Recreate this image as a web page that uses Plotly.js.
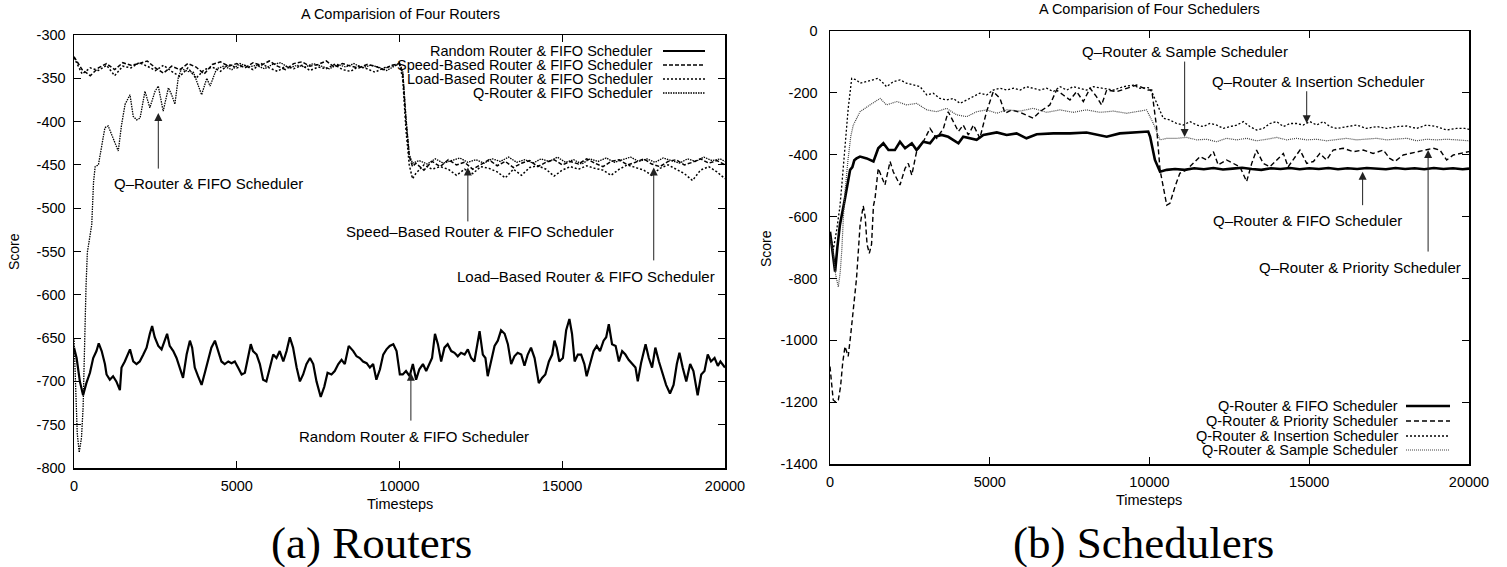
<!DOCTYPE html>
<html>
<head>
<meta charset="utf-8">
<script src="https://cdn.plot.ly/plotly-3.0.1.min.js"></script>
<style>
html,body{margin:0;padding:0;background:#fff;}
#chart{width:1507px;height:567px;}
</style>
</head>
<body>
<div id="chart"></div>
<script>
// ---------------- DATA: (a) Routers ----------------
const randomRouterT = [0,80,180,280,380,490,590,690,760,850,950,1000,1100,1200,1300,1410,1460,1560,1720,1820,1920,2020,2130,2230,2330,2400,2480,2590,2690,2790,2860,2940,3050,3150,3250,3350,3460,3560,3630,3710,3810,3920,4020,4120,4220,4330,4430,4530,4630,4740,4840,4940,5040,5150,5250,5350,5430,5500,5610,5710,5810,5910,6020,6120,6220,6320,6430,6530,6630,6730,6840,6940,7040,7140,7250,7350,7450,7580,7690,7790,7910,8010,8120,8220,8320,8440,8580,8680,8780,8880,8990,9090,9190,9290,9400,9500,9600,9700,9810,9910,10010,
10100,10200,10310,10410,10510,10610,10720,10820,10920,11000,11090,11180,11280,11380,11480,11590,11690,11790,11890,12000,12100,12200,12300,12460,12560,12640,12710,12820,12920,13020,13120,13230,13330,13430,13530,13630,13740,13840,13940,14040,14150,14280,14380,14480,14590,14690,14760,14830,14910,15020,15120,15220,15300,15380,15480,15580,15680,15750,15860,15960,16060,16160,16270,16350,16430,16530,16640,16740,16840,16940,17040,17150,17250,17320,17420,17560,17660,17760,17860,17970,18090,18190,18310,18420,18520,18600,18700,18810,18930,19030,19160,19270,19370,19470,19570,19680,19780,19860,20000];
const randomRouterV = [-661,-673,-700,-716,-702,-690,-673,-665,-656,-665,-680,-692,-698,-694,-700,-710,-684,-677,-663,-677,-680,-677,-669,-661,-645,-636,-649,-659,-663,-653,-645,-659,-665,-673,-684,-696,-669,-653,-661,-684,-694,-704,-690,-677,-661,-653,-665,-677,-680,-677,-679,-677,-684,-692,-690,-669,-657,-665,-669,-680,-698,-700,-684,-669,-673,-665,-677,-665,-649,-661,-684,-700,-692,-680,-673,-680,-700,-718,-706,-690,-692,-688,-680,-675,-680,-659,-665,-671,-673,-677,-679,-684,-680,-698,-686,-669,-663,-659,-657,-665,-692,
-692,-688,-694,-680,-698,-686,-680,-688,-680,-673,-645,-657,-677,-661,-657,-665,-667,-671,-667,-669,-663,-673,-677,-642,-669,-673,-694,-677,-659,-653,-641,-645,-657,-680,-671,-667,-669,-682,-669,-661,-673,-702,-696,-692,-677,-669,-653,-661,-677,-673,-641,-628,-645,-677,-669,-669,-680,-694,-680,-665,-659,-665,-653,-649,-634,-657,-659,-677,-665,-669,-675,-680,-684,-700,-679,-657,-673,-684,-661,-677,-692,-704,-714,-704,-680,-667,-684,-700,-680,-688,-716,-692,-688,-669,-677,-673,-682,-677,-684];

const bandT = [0,250,500,750,1000,1250,1500,1750,2000,2250,2500,2750,3000,3250,3500,3750,4000,4250,4500,4750,5000,5250,5500,5750,6000,6250,6500,6750,7000,7250,7500,7750,8000,8250,8500,8750,9000,9250,9500,9750,10000,10100,10200,10300,10400,10500,10750,11000,11250,11500,11750,12000,12250,12500,12750,13000,13250,13500,13750,14000,14250,14500,14750,15000,15250,15500,15750,16000,16250,16500,16750,17000,17250,17500,17750,18000,18250,18500,18750,19000,19250,19500,19750,20000];
const speedRouterV = [-325,-340,-347,-338,-333,-340,-332,-335,-333,-330,-338,-344,-336,-340,-333,-337,-345,-334,-331,-336,-333,-338,-332,-335,-330,-336,-340,-333,-331,-336,-334,-330,-337,-333,-336,-338,-334,-336,-340,-335,-333,-345,-400,-440,-452,-448,-456,-446,-452,-444,-450,-447,-455,-449,-444,-451,-446,-453,-448,-445,-452,-447,-444,-450,-446,-449,-443,-448,-452,-446,-444,-450,-447,-443,-449,-452,-446,-444,-450,-447,-443,-448,-445,-450];
const loadRouterV = [-326,-345,-338,-341,-335,-347,-336,-338,-332,-336,-341,-335,-342,-348,-338,-350,-340,-337,-342,-334,-338,-335,-340,-333,-338,-342,-336,-339,-335,-341,-337,-339,-334,-340,-342,-336,-339,-343,-338,-336,-334,-350,-410,-450,-466,-460,-450,-455,-452,-455,-462,-455,-460,-452,-454,-458,-465,-455,-462,-453,-451,-455,-463,-456,-452,-455,-451,-454,-456,-462,-455,-450,-453,-456,-462,-454,-450,-455,-460,-468,-456,-452,-458,-466];

const qRouterT = [0,50,100,160,230,280,320,370,410,480,545,600,650,750,850,950,1050,1150,1250,1360,1460,1570,1720,1820,1925,2030,2180,2330,2490,2590,2740,2900,3000,3100,3200,3300,3500,3670,3920,4080,4180,4380,4600,4850,5100,5350,5600,5850,6100,6350,6600,6850,7100,7350,7600,7850,8100,8350,8600,8850,9100,9350,9600,9850,10000,10100,10200,10300,10400,10600,10850,11100,11350,11600,11850,12100,12350,12600,12850,13100,13350,13600,13850,14100,14350,14600,14850,15100,15350,15600,15850,16100,16350,16600,16850,17100,17350,17600,17850,18100,18350,18600,18850,19100,19350,19600,19850,20000];
const qRouterV = [-650,-700,-760,-782,-765,-730,-660,-590,-551,-535,-519,-470,-452,-450,-430,-407,-405,-415,-425,-434,-404,-380,-369,-394,-398,-396,-365,-384,-365,-359,-388,-361,-369,-380,-350,-339,-342,-343,-369,-350,-359,-339,-336,-340,-333,-337,-335,-339,-334,-332,-338,-335,-337,-333,-336,-339,-334,-337,-333,-338,-335,-337,-341,-336,-332,-342,-395,-438,-448,-445,-449,-443,-448,-445,-442,-447,-444,-448,-443,-446,-441,-447,-444,-448,-443,-446,-441,-447,-444,-449,-443,-446,-442,-447,-444,-441,-446,-443,-447,-442,-445,-448,-443,-446,-441,-445,-443,-446];

// ---------------- DATA: (b) Schedulers ----------------
const fifoSchedT = [0,100,160,230,310,470,630,700,760,830,940,1150,1360,1510,1670,1830,2030,2190,2350,2560,2710,2920,3130,3290,3490,3700,3860,4020,4170,4380,4590,4800,5010,5220,5530,5840,6150,6470,6990,7510,8030,8340,8660,9070,9600,9960,10020,10170,10330,10540,10800,11100,11400,11700,12000,12300,12600,12900,13200,13500,13800,14100,14400,14700,15000,15300,15600,15900,16200,16500,16800,17100,17400,17700,18000,18300,18600,18900,19200,19500,19800,20000];
const fifoSchedV = [-649,-735,-778,-700,-627,-541,-449,-440,-418,-412,-406,-412,-422,-379,-363,-385,-385,-358,-379,-363,-385,-358,-363,-342,-336,-342,-352,-363,-342,-347,-352,-336,-331,-328,-336,-331,-347,-334,-331,-331,-328,-336,-342,-331,-328,-325,-342,-417,-455,-449,-446,-449,-444,-447,-443,-448,-445,-442,-446,-449,-444,-446,-443,-447,-444,-446,-443,-447,-444,-446,-443,-445,-447,-443,-446,-444,-447,-443,-446,-444,-447,-445];

const prioritySchedT = [0,100,180,260,330,400,470,520,570,650,730,830,940,1040,1100,1160,1230,1300,1360,1410,1510,1620,1720,1880,1980,2190,2350,2450,2560,2710,2920,3130,3340,3550,3700,3860,4020,4170,4330,4490,4690,4900,5110,5320,5480,5680,5950,6360,6570,6880,7090,7300,7510,7720,7930,8140,8340,8500,8660,8970,9280,9600,9960,10070,10220,10330,10540,10640,10800,10950,11160,11370,11580,11790,12000,12150,12410,12620,12830,13040,13200,13350,13560,13770,13980,14190,14340,14500,14710,14920,15130,15330,15540,15750,16060,16380,16690,17000,17320,17520,17680,17940,18250,18570,18880,19090,19300,19510,19770,20000];
const prioritySchedV = [-1085,-1193,-1200,-1193,-1150,-1070,-1020,-1035,-1052,-980,-907,-800,-630,-565,-600,-690,-719,-690,-565,-541,-444,-471,-498,-422,-455,-498,-444,-428,-466,-390,-358,-315,-347,-315,-261,-293,-325,-304,-336,-304,-347,-261,-196,-218,-266,-255,-263,-282,-261,-239,-191,-207,-223,-196,-228,-185,-212,-239,-191,-196,-185,-175,-191,-191,-309,-449,-563,-557,-503,-460,-449,-428,-406,-417,-390,-433,-417,-428,-439,-487,-428,-385,-428,-439,-417,-396,-439,-417,-385,-428,-422,-396,-417,-385,-379,-390,-385,-396,-385,-412,-422,-401,-393,-385,-379,-385,-417,-401,-396,-390];

const insertionSchedT = [0,100,210,310,370,470,570,680,830,940,1150,1360,1510,1670,1770,1980,2190,2400,2610,2820,3030,3230,3440,3650,3860,4070,4280,4490,4690,4900,5110,5320,5530,5740,5950,6150,6360,6570,6780,6990,7200,7410,7610,7820,8030,8240,8550,8870,9180,9490,9700,9960,10070,10280,10430,10640,10850,11060,11270,11480,11680,11890,12100,12310,12520,12730,12940,13140,13350,13560,13770,13980,14190,14400,14600,14810,15020,15230,15440,15650,15860,16170,16480,16790,17110,17420,17730,18050,18360,18670,18980,19300,19610,19870,20000];
const insertionSchedV = [-654,-708,-643,-568,-498,-379,-250,-153,-158,-169,-164,-158,-153,-169,-180,-164,-158,-169,-175,-180,-207,-201,-218,-223,-218,-234,-223,-212,-201,-207,-191,-185,-191,-185,-191,-180,-185,-191,-185,-196,-180,-191,-180,-185,-191,-180,-185,-191,-180,-175,-185,-183,-196,-245,-282,-288,-299,-304,-293,-304,-309,-299,-304,-315,-309,-304,-293,-309,-320,-315,-299,-293,-309,-299,-299,-304,-293,-304,-293,-309,-315,-309,-304,-315,-309,-315,-309,-307,-315,-304,-309,-320,-315,-315,-318];

const sampleSchedT = [0,100,180,260,320,370,420,470,560,650,730,940,1250,1570,1770,2090,2400,2710,3030,3340,3650,3960,4280,4590,4900,5220,5530,5950,6360,6780,7200,7610,8030,8450,8870,9280,9700,9910,10120,10330,10540,10850,11160,11480,11790,12100,12410,12730,13040,13350,13670,13980,14290,14600,14920,15230,15540,15860,16170,16480,16790,17110,17420,17730,18050,18360,18670,18980,19300,19610,20000];
const sampleSchedV = [-665,-720,-790,-827,-780,-708,-600,-520,-420,-340,-304,-261,-239,-218,-239,-228,-239,-234,-255,-261,-250,-271,-277,-261,-255,-266,-255,-259,-250,-263,-255,-263,-255,-263,-259,-266,-259,-255,-299,-352,-347,-347,-344,-352,-350,-358,-347,-352,-347,-355,-350,-344,-352,-347,-352,-350,-355,-350,-347,-352,-350,-347,-352,-350,-347,-355,-350,-352,-350,-352,-355];

// ---------------- TICKS / LABELS ----------------
const xTickVals = [0,5000,10000,15000,20000];
const xTickText = ['0','5000','10000','15000','20000'];
const routerYTickVals = [-300,-350,-400,-450,-500,-550,-600,-650,-700,-750,-800];
const routerYTickText = ['-300','-350','-400','-450','-500','-550','-600','-650','-700','-750','-800'];
const schedYTickVals = [0,-200,-400,-600,-800,-1000,-1200,-1400];
const schedYTickText = ['0','-200','-400','-600','-800','-1000','-1200','-1400'];

const routerNames = ['Random Router & FIFO Scheduler','Speed-Based Router & FIFO Scheduler','Load-Based Router & FIFO Scheduler','Q-Router & FIFO Scheduler'];
const schedNames = ['Q-Router & FIFO Scheduler','Q-Router & Priority Scheduler','Q-Router & Insertion Scheduler','Q-Router & Sample Scheduler'];

// ---------------- STYLES ----------------
const FONT = 'Liberation Sans, Arial, Helvetica, sans-serif';
const SERIF = 'Liberation Serif, Times New Roman, serif';
const routerStyles = [
  {color:'#000', width:2.2, dash:'solid'},
  {color:'#000', width:1.5, dash:'4px,2px'},
  {color:'#000', width:1.5, dash:'2px,2px'},
  {color:'#000', width:1.3, dash:'1.5px,1px'}
];
const schedStyles = [
  {color:'#000', width:2.6, dash:'solid'},
  {color:'#000', width:1.4, dash:'5px,3px'},
  {color:'#000', width:1.3, dash:'2px,2px'},
  {color:'#444', width:1.2, dash:'1px,1px'}
];

const routerData = [[randomRouterT,randomRouterV],[bandT,speedRouterV],[bandT,loadRouterV],[qRouterT,qRouterV]];
const schedData = [[fifoSchedT,fifoSchedV],[prioritySchedT,prioritySchedV],[insertionSchedT,insertionSchedV],[sampleSchedT,sampleSchedV]];

const traces = [];
routerData.forEach((d,i)=>traces.push({x:d[0],y:d[1],type:'scatter',mode:'lines',name:routerNames[i],xaxis:'x',yaxis:'y',line:routerStyles[i],hoverinfo:'skip',showlegend:false}));
schedData.forEach((d,i)=>traces.push({x:d[0],y:d[1],type:'scatter',mode:'lines',name:schedNames[i],xaxis:'x2',yaxis:'y2',line:schedStyles[i],hoverinfo:'skip',showlegend:false}));

const W = 1507, H = 567;
const px = v => v / W;
const py = v => 1 - v / H;

function axisBase(){
  return {showgrid:false, zeroline:false, showline:true, linecolor:'#000', linewidth:1.5,
    mirror:'allticks', ticks:'inside', ticklen:7, tickwidth:1, tickcolor:'#000',
    tickfont:{family:FONT,size:14.5,color:'#000'}, tickmode:'array', fixedrange:true};
}
const xa = Object.assign(axisBase(), {domain:[px(74),px(725)], range:[0,20000], tickvals:xTickVals, ticktext:xTickText, anchor:'y', ticklabelstandoff:4});
const ya = Object.assign(axisBase(), {domain:[py(468),py(35)], range:[-800,-300], tickvals:routerYTickVals, ticktext:routerYTickText, anchor:'x', ticklabelstandoff:4});
const xa2 = Object.assign(axisBase(), {domain:[px(830),px(1469)], range:[0,20000], tickvals:xTickVals, ticktext:xTickText, anchor:'y2', ticklabelstandoff:4});
const ya2 = Object.assign(axisBase(), {domain:[py(464),py(31)], range:[-1400,0], tickvals:schedYTickVals, ticktext:schedYTickText, anchor:'x2', ticklabelstandoff:8});

function txt(text,x,y,opts){
  return Object.assign({text:text, x:px(x), y:py(y), xref:'paper', yref:'paper', showarrow:false,
    xanchor:'center', yanchor:'middle', font:{family:FONT,size:15,color:'#000'}}, opts||{});
}
function dtxt(text,x,y,xr,yr,opts){
  return Object.assign({text:text, x:x, y:y, xref:xr, yref:yr, showarrow:false,
    xanchor:'center', yanchor:'middle', font:{family:FONT,size:15,color:'#000'}}, opts||{});
}
function arrow(x,tipY,tailY,xr,yr){
  return {x:x, y:tipY, ax:x, ay:tailY, xref:xr, yref:yr, axref:xr, ayref:yr, text:'', showarrow:true,
    arrowhead:2, arrowsize:1.6, arrowwidth:1, arrowcolor:'#222', standoff:0, startstandoff:0};
}

const annotations = [
  // titles
  txt('A Comparision of Four Routers', 400, 14, {font:{family:FONT,size:14.5,color:'#000'}}),
  txt('A Comparision of Four Schedulers', 1149, 9, {font:{family:FONT,size:14.5,color:'#000'}}),
  // axis titles
  txt('Timesteps', 400, 504, {font:{family:FONT,size:14.5,color:'#000'}}),
  txt('Timesteps', 1149, 500, {font:{family:FONT,size:14.5,color:'#000'}}),
  txt('Score', 14, 252, {textangle:-90, font:{family:FONT,size:14,color:'#000'}}),
  txt('Score', 766, 248, {textangle:-90, font:{family:FONT,size:14,color:'#000'}}),
  // captions
  txt('(a) Routers', 371, 543, {font:{family:SERIF,size:45,color:'#000'}}),
  txt('(b) Schedulers', 1143, 543, {font:{family:SERIF,size:45,color:'#000'}}),
  // (a) call-outs
  dtxt('Q\u2013Router & FIFO Scheduler', 1160, -472, 'x','y', {xanchor:'left'}),
  arrow(2590, -390, -456, 'x','y'),
  dtxt('Speed\u2013Based Router & FIFO Scheduler', 12470, -527, 'x','y'),
  arrow(12100, -453, -517, 'x','y'),
  dtxt('Load\u2013Based Router & FIFO Scheduler', 15730, -579, 'x','y'),
  arrow(17810, -453, -562, 'x','y'),
  dtxt('Random Router & FIFO Scheduler', 10445, -764, 'x','y'),
  arrow(10350, -690, -747, 'x','y'),
  // (b) call-outs
  dtxt('Q\u2013Router & Sample Scheduler', 11112, -65, 'x2','y2'),
  arrow(11100, -343, -94, 'x2','y2'),
  dtxt('Q\u2013Router & Insertion Scheduler', 15274, -162, 'x2','y2'),
  arrow(14920, -298, -190, 'x2','y2'),
  dtxt('Q\u2013Router & FIFO Scheduler', 14930, -614, 'x2','y2'),
  arrow(16670, -455, -568, 'x2','y2'),
  dtxt('Q\u2013Router & Priority Scheduler', 16590, -766, 'x2','y2'),
  arrow(18720, -385, -718, 'x2','y2')
];

// key boxes (gnuplot style: right-aligned text, sample on the right)
const shapes = [];
const routerKeyRows = [51, 65, 79, 93];
routerNames.forEach((n,i)=>{
  annotations.push(txt(n, 655, routerKeyRows[i], {xanchor:'right', font:{family:FONT,size:14.5,color:'#000'}}));
  shapes.push({type:'line', xref:'paper', yref:'paper', x0:px(663), x1:px(705), y0:py(routerKeyRows[i]), y1:py(routerKeyRows[i]),
    line:{color:routerStyles[i].color, width:routerStyles[i].width, dash:routerStyles[i].dash}});
});
const schedKeyRows = [406, 421, 436, 450];
schedNames.forEach((n,i)=>{
  annotations.push(txt(n, 1400, schedKeyRows[i], {xanchor:'right', font:{family:FONT,size:14.5,color:'#000'}}));
  shapes.push({type:'line', xref:'paper', yref:'paper', x0:px(1406), x1:px(1450), y0:py(schedKeyRows[i]), y1:py(schedKeyRows[i]),
    line:{color:schedStyles[i].color, width:schedStyles[i].width, dash:schedStyles[i].dash}});
});

const layout = {
  width:W, height:H, margin:{l:0,r:0,t:0,b:0}, paper_bgcolor:'#fff', plot_bgcolor:'#fff',
  showlegend:false, xaxis:xa, yaxis:ya, xaxis2:xa2, yaxis2:ya2,
  annotations:annotations, shapes:shapes, font:{family:FONT,color:'#000'}
};

Plotly.newPlot('chart', traces, layout, {staticPlot:true, displayModeBar:false});
</script>
</body>
</html>
